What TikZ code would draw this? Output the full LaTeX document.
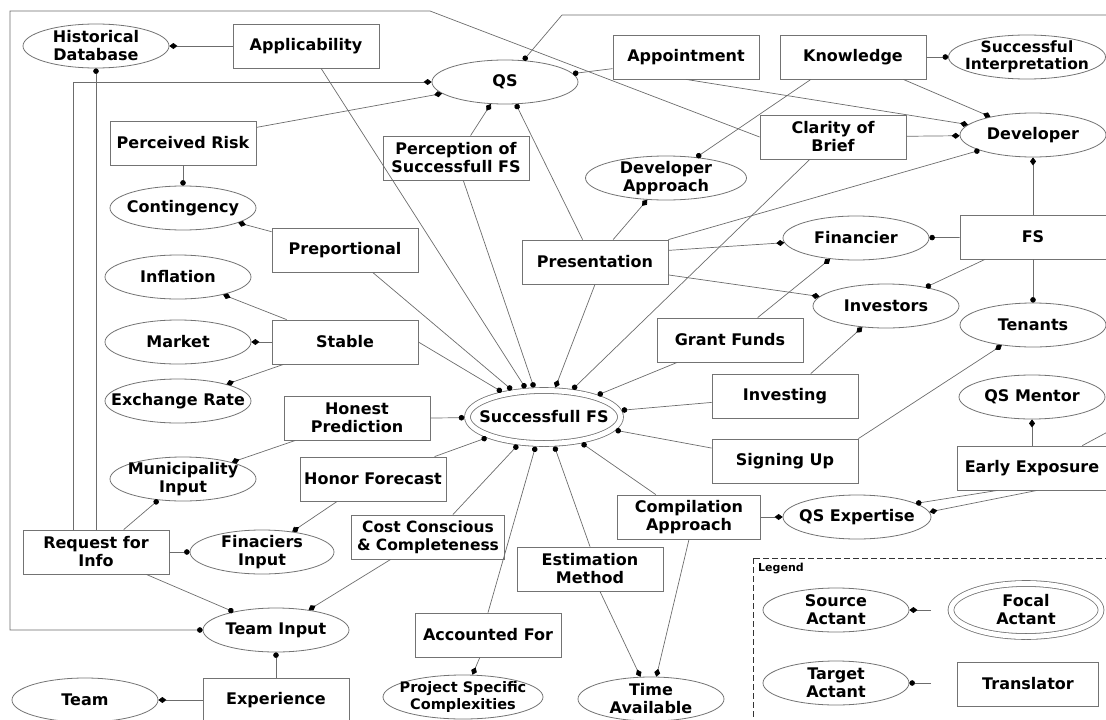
\documentclass[tikz,border=0pt]{standalone}
\usepackage{fontspec}
\setmainfont{DejaVu Sans}
\usetikzlibrary{shapes.geometric,arrows.meta}

\newcommand{\nodefont}{\bfseries\fontsize{16}{18}\selectfont}
\newcommand{\tightfont}{\bfseries\fontsize{14.5}{16.5}\selectfont}

\tikzset{
    actant/.style={ellipse, draw=gray!90!black, line width=0.8pt, minimum width=146pt,
        minimum height=44pt, inner xsep=-20pt, inner ysep=-8pt, align=center, font=\nodefont},
    focal/.style={actant, double=white, double distance=5pt, minimum width=153pt,
        minimum height=53pt, outer sep=3.3pt},
    translator/.style={rectangle, draw=gray!90!black, line width=0.8pt, minimum width=146pt,
        minimum height=44pt, inner sep=3pt, align=center, font=\nodefont},
    link/.style={draw=gray!85!black, line width=0.7pt},
    tosource/.style={link, -{Diamond[length=8pt,width=6pt,color=black]}},
    totarget/.style={link, -{Circle[length=5.5pt,color=black]}}
}

\begin{document}
\begin{tikzpicture}[x=1pt,y=-1pt]
    \useasboundingbox (0,0) rectangle (1106,720);
    \clip (0,0) rectangle (1106,720);

    \node[actant] (histdb) at (96,46) {Historical\\Database};
    \node[translator] (applic) at (306,46) {Applicability};
    \node[actant] (qs) at (505,82) {QS};
    \node[translator] (appointment) at (686,57) {Appointment};
    \node[translator] (knowledge) at (853,57) {Knowledge};
    \node[actant, minimum width=157pt, font=\bfseries\fontsize{15.5}{17}\selectfont] (interpret) at (1027,57) {Successful\\Interpretation};
    \node[translator] (prisk) at (183,143) {Perceived Risk};
    \node[translator] (perception) at (456,158) {Perception of\\Successfull FS};
    \node[translator] (clarity) at (833,137) {Clarity of\\Brief};
    \node[actant] (developer) at (1033,135) {Developer};
    \node[actant, minimum width=161pt] (devapproach) at (666,178) {Developer\\Approach};
    \node[actant] (contingency) at (183,208) {Contingency};
    \node[translator] (preport) at (345,250) {Preportional};
    \node[translator] (presentation) at (595,262) {Presentation};
    \node[actant] (financier) at (856,238) {Financier};
    \node[translator] (fs) at (1033,237) {FS};
    \node[actant] (inflation) at (178,277) {Inflation};
    \node[actant] (investors) at (886,306) {Investors};
    \node[actant] (tenants) at (1033,325) {Tenants};
    \node[actant] (market) at (178,342) {Market};
    \node[translator] (stable) at (345,342) {Stable};
    \node[translator] (grant) at (730,340) {Grant Funds};
    \node[actant] (exchange) at (178,401) {Exchange Rate};
    \node[translator] (honest) at (357,418) {Honest\\Prediction};
    \node[focal] (sfs) at (544,417) {Successfull FS};
    \node[translator] (investing) at (785,396) {Investing};
    \node[actant] (qsmentor) at (1032,397) {QS Mentor};
    \node[translator] (signing) at (785,461) {Signing Up};
    \node[translator, minimum width=150pt] (earlyexp) at (1032,468) {Early Exposure};
    \node[actant] (municipality) at (183,479) {Municipality\\Input};
    \node[translator] (honor) at (373,479) {Honor Forecast};
    \node[translator, minimum width=143pt] (compilation) at (689,517) {Compilation\\Approach};
    \node[actant, minimum width=148pt] (qsexpertise) at (857,517) {QS Expertise};
    \node[translator, minimum width=153pt, inner xsep=1pt, font=\bfseries\fontsize{15.5}{17.5}\selectfont] (cost) at (428,537) {Cost Conscious\\\& Completeness};
    \node[translator] (reqinfo) at (96,552) {Request for\\Info};
    \node[actant, minimum width=144pt] (finaciers) at (262,552) {Finaciers\\Input};
    \node[translator] (estimation) at (590,569) {Estimation\\Method};
    \node[actant] (teaminput) at (276,630) {Team Input};
    \node[translator] (accounted) at (488,635) {Accounted For};
    \node[actant] (team) at (85,700) {Team};
    \node[translator] (experience) at (276,700) {Experience};
    \node[actant, minimum width=160pt, font=\tightfont] (complexities) at (463,697) {Project Specific\\Complexities};
    \node[actant] (timeav) at (651,699) {Time\\Available};

    \coordinate (frameNE) at (430,11);
    \coordinate (frameNW) at (10,11);
    \coordinate (topbend) at (562,15);
    \coordinate (topright) at (1115,15);
    \coordinate (offright) at (1115,428);

    \draw[tosource] (applic) -- (histdb);
    \draw[totarget] (applic.-56) -- (sfs);
    \draw[tosource] (prisk.12) -- (qs);
    \draw[totarget] (prisk) -- (contingency);
    \draw[tosource] (preport.166) -- (contingency);
    \draw[totarget] (preport.-39) -- (sfs);
    \draw[tosource] (stable.159) -- (inflation);
    \draw[tosource] (stable) -- (market);
    \draw[tosource] (stable.-160) -- (exchange);
    \draw[totarget] (stable.east) -- (sfs);
    \draw[totarget] (honest.east) -- (sfs);
    \draw[tosource] (honest.-160) -- (municipality);
    \draw[totarget] (honor.20) -- (sfs);
    \draw[tosource] (honor.-148) -- (finaciers);
    \draw[totarget] (reqinfo.39) -- (municipality);
    \draw[totarget] (reqinfo) -- (finaciers);
    \draw[totarget] (reqinfo.-24) -- (teaminput);
    \draw[totarget] (reqinfo.north) -- (histdb);
    \draw[tosource] (reqinfo.135) |- (qs.west);
    \draw[totarget] (cost.42) -- (sfs);
    \draw[tosource] (cost.-149) -- (teaminput);
    \draw[totarget] (experience) -- (teaminput);
    \draw[tosource] (experience) -- (team);
    \draw[totarget] (clarity.west) -- (frameNE) -- (frameNW) |- (teaminput.west);
    \draw[totarget] (accounted.north) -- (sfs);
    \draw[tosource] (accounted.-110) -- (complexities);
    \draw[totarget] (estimation.north) -- (sfs);
    \draw[tosource] (estimation.-66) -- (timeav);
    \draw[totarget] (compilation.146) -- (sfs);
    \draw[tosource] (compilation.south) -- (timeav);
    \draw[tosource] (compilation) -- (qsexpertise);
    \draw[totarget] (earlyexp.-147) -- (qsexpertise.13);
    \draw[tosource] (earlyexp.-77) -- (qsexpertise.4);
    \draw[tosource] (earlyexp) -- (qsmentor);
    \draw[link] (earlyexp.24) -- (offright);
    \draw[tosource] (signing.north east) -- (tenants);
    \draw[totarget] (signing.170) -- (sfs);
    \draw[totarget] (investing.-175) -- (sfs);
    \draw[tosource] (investing.41) -- (investors);
    \draw[totarget] (grant.-157) -- (sfs);
    \draw[tosource] (grant.39) -- (financier);
    \draw[tosource] (fs) -- (developer);
    \draw[totarget] (fs) -- (financier);
    \draw[totarget] (fs.-155) -- (investors);
    \draw[totarget] (fs) -- (tenants);
    \draw[totarget] (presentation.north east) -- (developer);
    \draw[tosource] (presentation.9) -- (financier);
    \draw[tosource] (presentation.-10) -- (investors);
    \draw[tosource] (presentation.south) -- (sfs);
    \draw[totarget] (presentation.119) -- (qs);
    \draw[tosource] (presentation.51) -- (devapproach);
    \draw[tosource] (perception.57) -- (qs);
    \draw[totarget] (perception.-72) -- (sfs);
    \draw[totarget] (appointment.-171) -- (qs);
    \draw[tosource] (appointment.south) -- (developer);
    \draw[totarget] (knowledge) -- (interpret);
    \draw[tosource] (knowledge.-24) -- (developer);
    \draw[totarget] (knowledge.-152) -- (devapproach);
    \draw[tosource] (clarity) -- (developer);
    \draw[totarget] (clarity.-136) -- (sfs);
    \draw[totarget] (topright) -- (topbend) -- (qs);

    \draw[line width=1pt, dash pattern=on 6pt off 3pt, black!80] (753,558) rectangle (1120,730);
    \node[anchor=west, inner sep=0pt, font=\bfseries\fontsize{11}{13}\selectfont] (legendtitle) at (758,569) {Legend};
    \node[actant] (srcdemo) at (836,610) {Source\\Actant};
    \node[focal, minimum width=150pt] (focaldemo) at (1026,610) {Focal\\Actant};
    \node[actant] (tgtdemo) at (836,683) {Target\\Actant};
    \node[translator, minimum width=141pt] (transdemo) at (1028,684) {Translator};
    \coordinate (srcfree) at (931,610);
    \coordinate (tgtfree) at (931,683);
    \draw[tosource] (srcfree) -- (srcdemo);
    \draw[totarget] (tgtfree) -- (tgtdemo);
\end{tikzpicture}
\end{document}
